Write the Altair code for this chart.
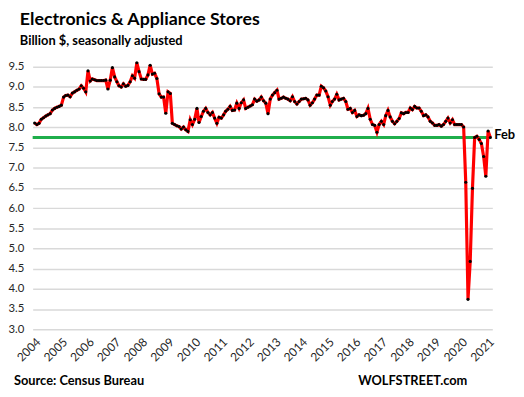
import altair as alt
import pandas as pd

# Monthly sales, billion $, seasonally adjusted
y2004 = [8.11, 8.07, 8.10, 8.20, 8.24, 8.28, 8.31, 8.34, 8.43, 8.47, 8.50, 8.52]
y2005 = [8.55, 8.75, 8.79, 8.80, 8.76, 8.85, 8.88, 8.92, 8.95, 9.03, 8.97, 8.88]
y2006 = [9.40, 9.15, 9.20, 9.18, 9.16, 9.16, 9.16, 9.16, 9.17, 8.95, 9.17, 9.48]
y2007 = [9.25, 9.13, 9.03, 9.00, 9.08, 9.02, 9.04, 9.13, 9.28, 9.22, 9.60, 9.38]
y2008 = [9.20, 9.19, 9.19, 9.30, 9.54, 9.32, 9.34, 9.21, 8.83, 8.75, 8.75, 8.35]
y2009 = [8.88, 8.84, 8.10, 8.07, 8.04, 8.02, 7.96, 8.01, 7.94, 7.90, 8.19, 8.07]
y2010 = [8.20, 8.47, 8.12, 8.27, 8.40, 8.47, 8.37, 8.31, 8.37, 8.23, 8.10, 8.25]
y2011 = [8.23, 8.31, 8.40, 8.45, 8.52, 8.42, 8.43, 8.60, 8.47, 8.61, 8.68, 8.47]
y2012 = [8.50, 8.53, 8.56, 8.70, 8.65, 8.68, 8.75, 8.66, 8.60, 8.34, 8.70, 8.80]
y2013 = [8.86, 8.92, 8.70, 8.72, 8.75, 8.72, 8.70, 8.66, 8.76, 8.64, 8.58, 8.64]
y2014 = [8.70, 8.71, 8.72, 8.68, 8.55, 8.61, 8.70, 8.80, 8.80, 9.02, 8.98, 8.90]
y2015 = [8.76, 8.55, 8.64, 8.70, 8.82, 8.68, 8.70, 8.72, 8.64, 8.45, 8.47, 8.37]
y2016 = [8.42, 8.27, 8.31, 8.29, 8.30, 8.34, 8.47, 8.20, 8.07, 8.05, 7.88, 8.07]
y2017 = [8.15, 8.07, 8.29, 8.42, 8.26, 8.15, 8.09, 8.15, 8.22, 8.36, 8.34, 8.37]
y2018 = [8.37, 8.48, 8.44, 8.52, 8.48, 8.48, 8.40, 8.29, 8.31, 8.26, 8.15, 8.11]
y2019 = [8.05, 8.05, 8.07, 8.03, 8.07, 8.15, 8.23, 8.11, 8.19, 8.07, 8.07, 8.07]
y2020 = [8.07, 8.01, 6.64, 3.74, 4.68, 6.49, 7.75, 7.78, 7.70, 7.60, 7.28, 6.79]
y2021 = [7.91, 7.75]

y_ticks = [3.0, 3.5, 4.0, 4.5, 5.0, 5.5, 6.0, 6.5, 7.0, 7.5, 8.0, 8.5, 9.0, 9.5]
last_label = ["Feb"]
title_text = ["Electronics & Appliance Stores"]
subtitle_text = ["Billion $, seasonally adjusted"]
source_text = ["Source: Census Bureau"]
brand_text = ["WOLFSTREET.com"]

series = (y2004 + y2005 + y2006 + y2007 + y2008 + y2009 + y2010 + y2011 + y2012
          + y2013 + y2014 + y2015 + y2016 + y2017 + y2018 + y2019 + y2020 + y2021)
dates = pd.date_range("2004-01-01", periods=len(series), freq="MS")
df = pd.DataFrame({"date": dates.strftime("%Y-%m-%dT00:00:00"), "value": series})

last_df = df.iloc[[-1]].copy()
last_df["label"] = last_label
rule_df = pd.DataFrame({
    "start": ["2003-12-05T00:00:00"],
    "end": [df["date"].iloc[-1]],
    "value": [series[-1]],
})

FONT = "Lato"
x_scale = alt.Scale(domain=[alt.DateTime(year=2003, month=12, date=5),
                            alt.DateTime(year=2021, month=2, date=28)])
y_scale = alt.Scale(domain=[3.0, 9.5], nice=False, zero=False)

x_axis = alt.Axis(format="%Y", tickCount={"interval": "year", "step": 1},
                  labelAngle=-45, grid=False, ticks=False, domain=False,
                  labelFont=FONT, labelFontSize=12, labelColor="#262626",
                  labelPadding=7, title=None, labelOverlap=False)
y_axis = alt.Axis(values=y_ticks, format=".1f", grid=True, gridColor="#d9d9d9",
                  gridWidth=1.5, ticks=False, domain=False, labelPadding=9,
                  labelOverlap=False, labelFont=FONT, labelFontSize=11.5,
                  labelColor="#262626", title=None)

X = alt.X("date:T", scale=x_scale, axis=x_axis)
Y = alt.Y("value:Q", scale=y_scale, axis=y_axis)

base = alt.Chart(df)
line = base.mark_line(color="#ff0000", strokeWidth=3.2).encode(x=X, y=Y)
points = base.mark_circle(color="black", size=10, opacity=1).encode(x=X, y=Y)
rule = alt.Chart(rule_df).mark_rule(color="#1fae4b", strokeWidth=3).encode(
    x=alt.X("start:T", scale=x_scale, axis=x_axis),
    x2="end:T",
    y=Y,
)
feb = alt.Chart(last_df).mark_text(align="left", baseline="middle", dx=4, dy=-2,
                                   font=FONT, fontSize=13, fontWeight="bold",
                                   color="black").encode(
    x=X, y=Y, text="label:N",
)


def note(txt, x, y, size):
    return alt.Chart(pd.DataFrame({"t": txt})).mark_text(
        align="left", baseline="alphabetic", font=FONT, fontSize=size,
        fontWeight="bold", color="black").encode(
        x=alt.value(x), y=alt.value(y), text="t:N")


chart = alt.layer(
    rule, line, points, feb,
    note(title_text, -13, -42, 18),
    note(subtitle_text, -13, -22, 13),
    note(source_text, -19, 323, 13),
    note(brand_text, 330, 323, 13),
).properties(
    width=466, height=266,
    padding={"left": 25, "top": 57, "right": 24, "bottom": 60},
    autosize=alt.AutoSizeParams(type="none"),
).configure_view(stroke=None)

chart.save("out.html", embed_options={"renderer": "svg", "actions": False})
